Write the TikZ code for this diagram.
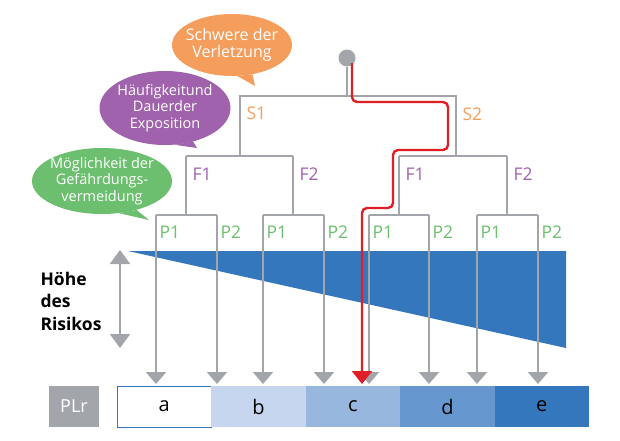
\documentclass[tikz,border=0pt]{standalone}
\usepackage{fontspec}
\setmainfont{Open Sans}
\usetikzlibrary{arrows.meta,positioning,calc,shapes.geometric}
\definecolor{riskblue}{HTML}{3477BD}
\definecolor{treegray}{HTML}{A2A6AB}
\definecolor{sevorange}{HTML}{F59E5C}
\definecolor{freqpurple}{HTML}{A062AC}
\definecolor{avoidgreen}{HTML}{6CBF6E}
\definecolor{pathred}{HTML}{E01E26}
\definecolor{plb}{HTML}{C6D6EE}
\definecolor{plc}{HTML}{97B7DF}
\definecolor{pld}{HTML}{6797CF}
\newcommand{\lblfont}{\fontsize{17.5}{20}\selectfont}
\tikzset{
  branch/.style={draw=treegray, line width=2.4pt},
  leaf/.style={branch, -{Triangle[width=20pt,length=12pt]}},
  redpath/.style={draw=pathred, line width=2.4pt, rounded corners=5pt, -{Triangle[width=20pt,length=13pt]}},
  bubble/.style={ellipse, inner xsep=-7pt, inner ysep=-3pt, align=center, text=white, font=\fontsize{14.5}{16.5}\selectfont},
  slabel/.style={anchor=west, font=\lblfont, text=sevorange},
  flabel/.style={anchor=west, font=\lblfont, text=freqpurple},
  plabel/.style={anchor=west, font=\lblfont, text=avoidgreen},
  plbox/.style={minimum width=94.4pt, minimum height=41pt, inner sep=0pt, outer sep=0pt, font=\fontsize{20}{22}\selectfont}}

\begin{document}
\begin{tikzpicture}[x=1pt, y=-1pt]
  \useasboundingbox (0,0) rectangle (620,440);
  % risk wedge
  \fill[riskblue] (128,251) -- (566,251) -- (566,348) -- cycle;
  \coordinate (riskhi) at (120,250); \coordinate (risklo) at (120,348);
  \draw[branch, {Triangle[width=20pt,length=14pt]}-{Triangle[width=20pt,length=14pt]}] (riskhi) -- (risklo);
  \node[anchor=west, align=left, font=\fontsize{17.5}{22.5}\selectfont\bfseries] (risk) at (37,301) {Höhe\\des\\Risikos};
  % bubbles
  \node[bubble, fill=sevorange, minimum width=120pt, minimum height=62pt, font=\fontsize{16}{17}\selectfont] (sev) at (232,45) {Schwere der\\Verletzung};
  \coordinate (sevtip) at (255,86);
  \fill[sevorange] (sev.-80) -- (sevtip) -- (sev.-55) -- cycle;
  \node[bubble, fill=freqpurple, minimum width=131pt, minimum height=74pt] (freq) at (165,108) {Häufigkeitund\\Dauerder\\Exposition};
  \coordinate (freqtip) at (197,148);
  \fill[freqpurple] (freq.-75) -- (freqtip) -- (freq.-50) -- cycle;
  \node[bubble, fill=avoidgreen, minimum width=140pt, minimum height=66pt] (avoid) at (102,181) {Möglichkeit der\\Gefährdungs-\\vermeidung};
  \coordinate (avoidtip) at (149,220);
  \fill[avoidgreen] (avoid.-62) -- (avoidtip) -- (avoid.-40) -- cycle;
  % tree
  \node[circle, fill=treegray, minimum size=17pt, inner sep=0pt] (root) at (347,58) {};
  \coordinate (sL) at (240,96); \coordinate (sR) at (456,96);
  \coordinate (fL1) at (186,156); \coordinate (fL2) at (293,156);
  \coordinate (fR1) at (399,156); \coordinate (fR2) at (507,156);
  \foreach \x [count=\i] in {156,217,263,324,369,429,477,538} {
    \coordinate (top\i) at (\x,215); \coordinate (tip\i) at (\x,384);}
  \draw[branch] (root) -- (root |- sL);
  \draw[branch] (sL |- fL1) -- (sL) -- (sR) -- (sR |- fR1);
  \draw[branch] (fL1) -- (fL2); \draw[branch] (fR1) -- (fR2);
  \foreach \f/\a/\b in {fL1/1/2, fL2/3/4, fR1/5/6, fR2/7/8}
    \draw[branch] (\f) -- (\f |- top\a) (top\a) -- (top\b);
  \foreach \i in {1,...,8}
    \draw[leaf] (top\i) -- (tip\i);
  % labels
  \node[slabel] at (243,113) {S1};
  \node[slabel] at (459,114) {S2};
  \foreach \f/\t in {fL1/F1, fL2/F2, fR1/F1, fR2/F2}
    \node[flabel] at ($(\f)+(3,18)$) {\t};
  \foreach \i in {1,...,8}
    \node[plabel] at ($(top\i)+(0,17)$) {\ifodd\i P1\else P2\fi};
  % chosen route
  \coordinate (r1) at (352,102); \coordinate (r2) at (448,102);
  \coordinate (r3) at (448,150); \coordinate (r4) at (393,150);
  \coordinate (r5) at (393,208); \coordinate (r6) at (362,208);
  \coordinate (rend) at (362,384);
  \draw[redpath] ($(root.center)+(5,5)$) -- (r1) -- (r2) -- (r3) -- (r4) -- (r5) -- (r6) -- (rend);
  % PLr row
  \node[plbox, fill=treegray, minimum width=50pt, text=white, font=\fontsize{18}{20}\selectfont] (plr) at (74,406.5) {PLr};
  \node[plbox, fill=white, draw=riskblue, line width=1pt, anchor=west] (pla) at (117,406.5) {a};
  \node[plbox, fill=plb, right=0pt of pla] (plbb) {b};
  \node[plbox, fill=plc, right=0pt of plbb] (plcc) {c};
  \node[plbox, fill=pld, right=0pt of plcc] (pldd) {d};
  \node[plbox, fill=riskblue, right=0pt of pldd] (plee) {e};
\end{tikzpicture}
\end{document}
